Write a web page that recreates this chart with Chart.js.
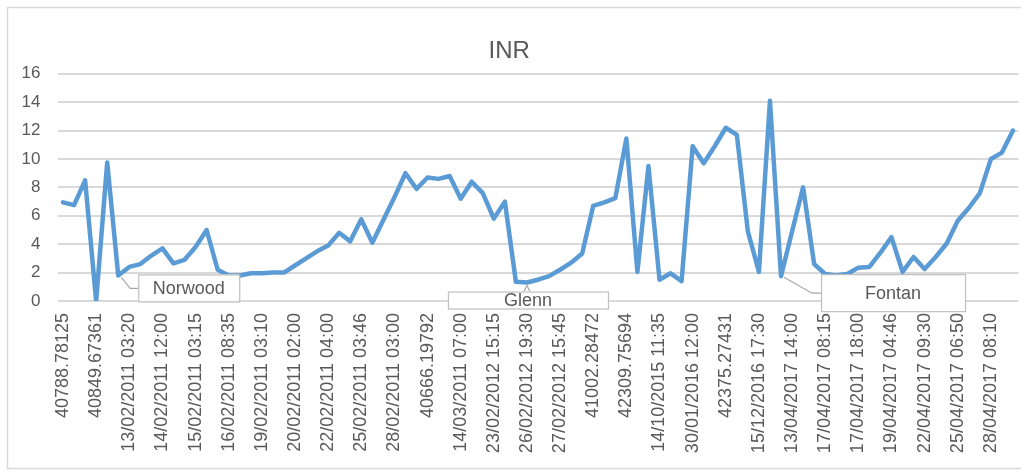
<!DOCTYPE html>
<html>
<head>
<meta charset="utf-8">
<script src="https://cdn.jsdelivr.net/npm/chart.js@4"></script>
<style>
  html, body { margin: 0; padding: 0; background: #fff; }
  #wrap { width: 1021px; height: 476px; }
</style>
</head>
<body>
<div id="wrap"><canvas id="myChart" width="1021" height="476"></canvas></div>
<script>
// tick labels shown on the x axis (one every 3 readings)
var tickLabels = [
    '40788.78125', '40849.67361', '13/02/2011 03:20', '14/02/2011 12:00',
    '15/02/2011 03:15', '16/02/2011 08:35', '19/02/2011 03:10', '20/02/2011 02:00',
    '22/02/2011 04:00', '25/02/2011 03:46', '28/02/2011 03:00', '40666.19792',
    '14/03/2011 07:00', '23/02/2012 15:15', '26/02/2012 19:30', '27/02/2012 15:45',
    '41002.28472', '42309.75694', '14/10/2015 11:35', '30/01/2016 12:00',
    '42375.27431', '15/12/2016 17:30', '13/04/2017 14:00', '17/04/2017 08:15',
    '17/04/2017 18:00', '19/04/2017 04:46', '22/04/2017 09:30', '25/04/2017 06:50',
    '28/04/2017 08:10'
];

// INR readings
var inrValues = [
    6.95, 6.75, 8.5, 0, 9.75, 1.8, 2.4, 2.6, 3.2, 3.7,
    2.65, 2.9, 3.8, 5.0, 2.2, 1.8, 1.8, 1.95, 1.95, 2.0,
    2.0, 2.5, 3.0, 3.5, 3.9, 4.8, 4.2, 5.75, 4.1, 5.7,
    7.3, 9.0, 7.9, 8.7, 8.6, 8.8, 7.2, 8.4, 7.6, 5.8,
    7.0, 1.35, 1.3, 1.5, 1.75, 2.2, 2.7, 3.35, 6.7, 6.95,
    7.25, 11.45, 2.05, 9.5, 1.5, 1.95, 1.4, 10.9, 9.7, 10.9,
    12.2, 11.7, 4.9, 2.05, 14.1, 1.75, 4.9, 8.0, 2.6, 1.9,
    1.8, 1.9, 2.35, 2.4, 3.4, 4.5, 2.05, 3.1, 2.25, 3.1,
    4.05, 5.65, 6.55, 7.6, 10.0, 10.45, 12.0
];

// surgery callouts: index of the reading they point at
var callouts = [
    { index: 5, text: 'Norwood' },
    { index: 42, text: 'Glenn' },
    { index: 65, text: 'Fontan' }
];

var categories = inrValues.map(function (v, i) {
    return i % 3 === 0 ? tickLabels[i / 3] : '';
});

var grey = '#595959';
var fontName = '"Liberation Sans", Arial, sans-serif';

// white background + light frame around the chart
var framePlugin = {
    id: 'frame',
    beforeDraw: function (chart) {
        var c = chart.ctx;
        c.save();
        c.fillStyle = '#fff';
        c.fillRect(0, 0, chart.width, chart.height);
        c.strokeStyle = '#d9d9d9';
        c.lineWidth = 1.5;
        c.strokeRect(7.5, 7.5, chart.width + 20, chart.height - 15);
        c.restore();
    }
};

// callout boxes, placed relative to the point they label
var calloutPlugin = {
    id: 'callouts',
    afterDatasetsDraw: function (chart) {
        var c = chart.ctx;
        var xs = chart.scales.x, ys = chart.scales.y;
        c.save();
        c.font = '18px ' + fontName;
        c.textAlign = 'center';
        c.textBaseline = 'middle';
        callouts.forEach(function (co) {
            var px = xs.getPixelForValue(co.index);
            var py = ys.getPixelForValue(inrValues[co.index]);
            var box, path;
            if (co.text === 'Norwood') {
                box = [px + 20, py - 1, 101, 27];
                path = [[px + 3, py + 2], [px + 12, py + 13], [px + 20, py + 13]];
            } else if (co.text === 'Glenn') {
                box = [px - 79, py + 9, 160, 17];
                path = [[px - 3, py + 9], [px, py + 3], [px + 3, py + 9]];
            } else {
                box = [px + 40, py - 2, 144, 37];
                path = [[px + 3, py + 1], [px + 31, py + 17], [px + 40, py + 17]];
            }
            c.strokeStyle = '#a6a6a6';
            c.lineWidth = 1.2;
            c.beginPath();
            c.moveTo(path[0][0], path[0][1]);
            for (var k = 1; k < path.length; k++) c.lineTo(path[k][0], path[k][1]);
            c.stroke();
            c.fillStyle = '#fff';
            c.fillRect(box[0], box[1], box[2], box[3]);
            c.strokeStyle = '#bfbfbf';
            c.strokeRect(box[0] + 0.5, box[1] + 0.5, box[2], box[3]);
            c.fillStyle = grey;
            c.fillText(co.text, box[0] + box[2] / 2, box[1] + box[3] / 2 + 1);
        });
        c.restore();
    }
};

function drawChart() {
    const ctx = document.getElementById('myChart').getContext('2d');
    var myChartConfig = {
        type: 'line',
        data: {
            labels: categories,
            datasets: [{
                label: 'INR',
                data: inrValues,
                borderColor: '#5b9bd5',
                backgroundColor: '#5b9bd5',
                borderWidth: 4.5,
                borderJoinStyle: 'round',
                borderCapStyle: 'round',
                pointRadius: 0,
                tension: 0,
                fill: false
            }]
        },
        options: {
            responsive: false,
            animation: false,
            layout: { padding: { left: 0, right: 2.5, top: 0, bottom: 0 } },
            plugins: {
                legend: { display: false },
                tooltip: { enabled: false },
                title: {
                    display: true,
                    text: 'INR',
                    color: grey,
                    font: { family: fontName, size: 24, weight: 'normal' },
                    padding: { top: 37, bottom: 8 }
                }
            },
            scales: {
                x: {
                    offset: true,
                    grid: { display: false },
                    border: { display: false },
                    ticks: {
                        autoSkip: false,
                        minRotation: 90,
                        maxRotation: 90,
                        padding: 4,
                        color: grey,
                        font: { family: fontName, size: 18 }
                    },
                    afterFit: function (scale) {
                        scale.height = 175;
                        scale.paddingLeft = 0;
                        scale.paddingRight = 0;
                    }
                },
                y: {
                    min: 0,
                    max: 16,
                    ticks: {
                        stepSize: 2,
                        padding: 17,
                        color: grey,
                        font: { family: fontName, size: 17 }
                    },
                    grid: { color: '#d9d9d9', lineWidth: 2, drawTicks: false },
                    border: { display: false },
                    afterFit: function (scale) {
                        scale.width = 57.5;
                        scale.paddingTop = 0;
                        scale.paddingBottom = 0;
                    }
                }
            }
        },
        plugins: [framePlugin, calloutPlugin]
    };
    const myChart = new Chart(ctx, myChartConfig);
}

drawChart();
</script>
</body>
</html>
